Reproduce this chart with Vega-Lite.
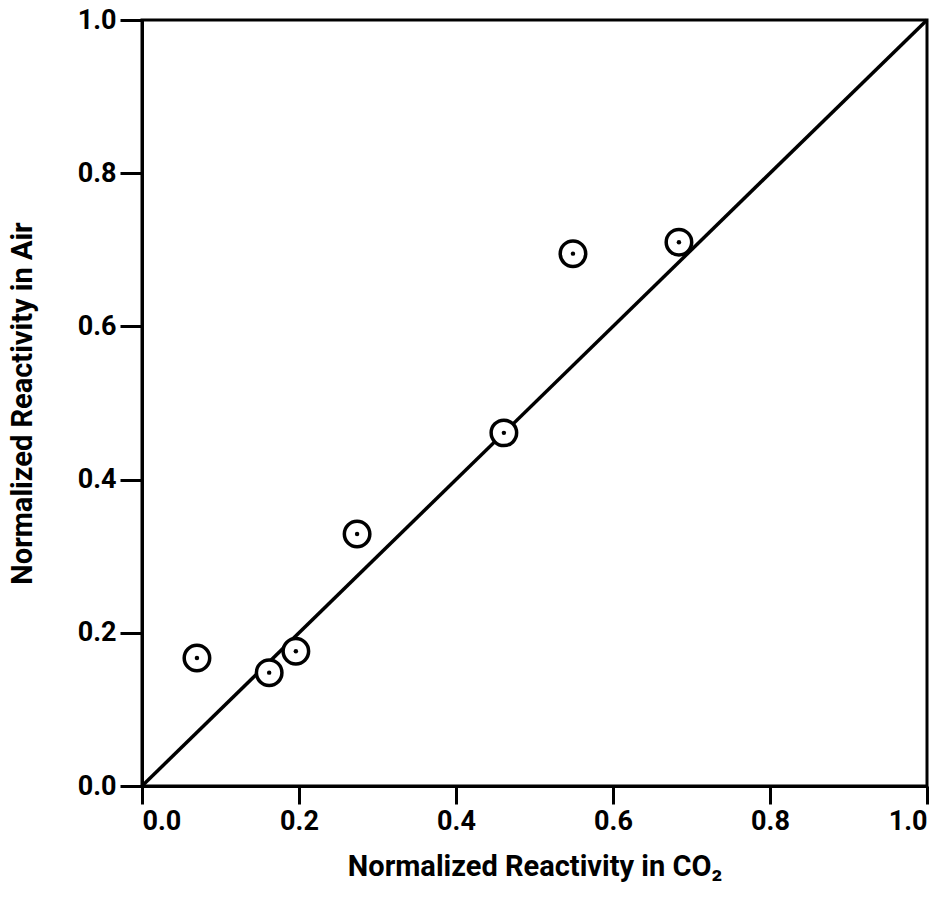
{
  "$schema": "https://vega.github.io/schema/vega-lite/v6.json",
  "width": 785,
  "height": 766,
  "autosize": {"type": "none"},
  "padding": {"left": 142, "top": 20, "right": 19, "bottom": 113},
  "background": "white",
  "config": {
    "view": {"stroke": "black", "strokeWidth": 3},
    "axis": {
      "grid": false,
      "domainColor": "black",
      "domainWidth": 3,
      "tickColor": "black",
      "tickWidth": 3,
      "labelColor": "black",
      "titleColor": "black",
      "labelFont": "Roboto",
      "titleFont": "Roboto",
      "labelFontWeight": "bold",
      "titleFontWeight": "bold",
      "labelFontSize": 27,
      "titleFontSize": 29
    }
  },
  "datasets": {
    "points": [
      {"co2": 0.070, "air": 0.167},
      {"co2": 0.162, "air": 0.148},
      {"co2": 0.196, "air": 0.176},
      {"co2": 0.274, "air": 0.329},
      {"co2": 0.461, "air": 0.461},
      {"co2": 0.549, "air": 0.695},
      {"co2": 0.684, "air": 0.710}
    ],
    "diag": [
      {"co2": 0, "air": 0},
      {"co2": 1, "air": 1}
    ]
  },
  "layer": [
    {
      "data": {"name": "diag"},
      "mark": {"type": "line", "color": "black", "strokeWidth": 3.5},
      "encoding": {
        "x": {
          "field": "co2", "type": "quantitative",
          "scale": {"domain": [0, 1], "nice": false, "zero": false},
          "axis": {
            "title": "Normalized Reactivity in CO₂",
            "values": [0, 0.2, 0.4, 0.6, 0.8, 1.0],
            "format": ".1f",
            "tickSize": 18,
            "labelPadding": 4,
            "titlePadding": 18
          }
        },
        "y": {
          "field": "air", "type": "quantitative",
          "scale": {"domain": [0, 1], "nice": false, "zero": false},
          "axis": {
            "title": "Normalized Reactivity in Air",
            "values": [0, 0.2, 0.4, 0.6, 0.8, 1.0],
            "format": ".1f",
            "tickSize": 22,
            "labelPadding": 4,
            "titlePadding": 40
          }
        }
      }
    },
    {
      "data": {"name": "points"},
      "mark": {"type": "point", "shape": "circle", "filled": false, "fill": "white", "fillOpacity": 1, "stroke": "black", "strokeWidth": 3.5, "size": 650, "opacity": 1},
      "encoding": {
        "x": {"field": "co2", "type": "quantitative"},
        "y": {"field": "air", "type": "quantitative"}
      }
    },
    {
      "data": {"name": "points"},
      "mark": {"type": "circle", "color": "black", "size": 20, "opacity": 1},
      "encoding": {
        "x": {"field": "co2", "type": "quantitative"},
        "y": {"field": "air", "type": "quantitative"}
      }
    }
  ]
}
